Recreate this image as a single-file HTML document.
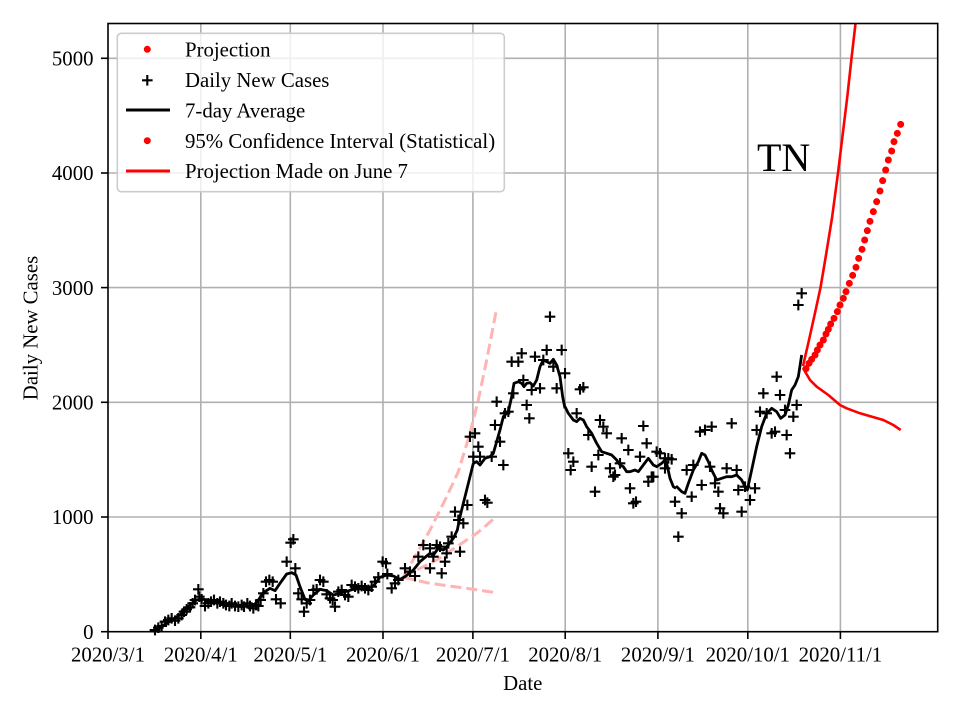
<!DOCTYPE html>
<html><head><meta charset="utf-8"><style>
html,body{margin:0;padding:0;background:#fff;}
svg{display:block;}
text{font-family:"Liberation Serif","Times New Roman",serif;fill:#000;}
</style></head><body>
<svg width="960" height="720" viewBox="0 0 960 720" xmlns="http://www.w3.org/2000/svg">
<defs>
<marker id="pz" markerUnits="userSpaceOnUse" markerWidth="40" markerHeight="40" refX="0" refY="0" overflow="visible"><path d="M-16 0h32M0 -16v32" stroke="#000" stroke-width="6.3" fill="none"/></marker>
<marker id="dz" markerUnits="userSpaceOnUse" markerWidth="30" markerHeight="30" refX="0" refY="0" overflow="visible"><circle cx="0" cy="0" r="10.5" fill="#ff0000"/></marker>
</defs>
<rect width="960" height="720" fill="#fff"/>
<!-- grid -->
<g stroke="#b0b0b0" stroke-width="1.6">
<line x1="200.8" y1="23.5" x2="200.8" y2="631.7"/>
<line x1="290.3" y1="23.5" x2="290.3" y2="631.7"/>
<line x1="383" y1="23.5" x2="383" y2="631.7"/>
<line x1="472.9" y1="23.5" x2="472.9" y2="631.7"/>
<line x1="565.2" y1="23.5" x2="565.2" y2="631.7"/>
<line x1="657.9" y1="23.5" x2="657.9" y2="631.7"/>
<line x1="747.8" y1="23.5" x2="747.8" y2="631.7"/>
<line x1="840.4" y1="23.5" x2="840.4" y2="631.7"/>
<line x1="108" y1="517" x2="937.7" y2="517"/>
<line x1="108" y1="402.3" x2="937.7" y2="402.3"/>
<line x1="108" y1="287.6" x2="937.7" y2="287.6"/>
<line x1="108" y1="173" x2="937.7" y2="173"/>
<line x1="108" y1="58.3" x2="937.7" y2="58.3"/>
</g>
<!-- pink dashed projections -->
<g fill="none" stroke="#ffb3b3" stroke-width="3" stroke-dasharray="11,5">
<polyline points="403.3,577.3 430,530 446.7,496.7 458.3,471.7 470,433.3 478.3,400 486.7,360 496.7,308.3"/>
<polyline points="403.3,577.3 420,568.3 436.7,560 456.7,546.7 476.7,533.3 486.7,525 496,516.7"/>
<polyline points="403.3,577.3 426.7,582.7 446.7,585.7 466.7,588.3 496,592.7"/>
</g>
<!-- 7-day average line -->
<g fill="none" stroke="#000" stroke-width="8.4" stroke-linejoin="round" stroke-linecap="butt">
<polyline transform="translate(140,500) scale(0.33333)" points="40,395 80,370 120,345 150,315 170,300 190,298 220,305 260,312 300,318 340,318 355,300 370,278 390,265 405,272 420,250 440,222 455,218 468,225 480,260 495,298 505,302 520,285 540,268 560,272 580,285 600,280 640,268 680,265 700,258 720,232 740,225 760,228 780,238"/>
<polyline transform="translate(380,290) scale(0.33333)" points="60,868 75,860 100,840 120,815 140,798 150,790 160,795 175,775 190,780 205,765 220,745 232,720 240,680 255,620 270,560 280,520 290,515 300,525 315,505 330,500 340,490 350,455 360,420 370,380 385,365 395,320 402,280 415,275 425,280 432,290 440,280 450,278 460,288 470,270 480,230 490,210 500,215 510,220 520,208 530,225 540,260 548,320 555,355"/>
<polyline transform="translate(550,300) scale(0.33333)" points="45,320 55,340 70,360 80,365 90,355 100,360 110,380 125,400 140,430 155,455 170,460 185,465 200,480 210,495 220,500 230,515 240,515 255,510 265,515 280,495 295,475 310,495 320,500 335,490 345,480 350,490 360,535 370,560 378,565"/>
<polyline transform="translate(660,270) scale(0.33333)" points="48,648 65,665 75,670 85,640 100,600 115,575 125,550 135,555 145,575 155,600 170,630 185,625 200,620 215,620 230,615 245,630 255,650 262,660 275,600 290,530 305,470 320,430 335,415 350,425 362,445 375,435 385,405 395,360 405,345 415,320 425,255"/>
</g>
<!-- daily new cases (plus markers) -->
<g fill="none" stroke="none">
<polyline transform="translate(140,500) scale(0.33333)" marker-start="url(#pz)" marker-mid="url(#pz)" marker-end="url(#pz)" points="45,390 55,383 65,378 75,365 85,360 95,355 105,362 115,355 125,345 132,335 140,328 150,322 158,310 165,300 175,268 178,290 185,298 195,318 205,310 213,305 222,300 232,310 240,305 250,310 258,315 268,318 275,310 285,318 295,320 305,315 312,320 322,310 330,318 340,325 348,315 355,318 362,300 370,280 378,245 388,240 398,245 408,298 422,310 440,185 452,128 460,118 466,205 475,280 485,298 492,335 500,310 510,300 520,270 530,268 540,240 550,245 560,283 570,295 578,300 585,320 595,275 605,270 615,285 625,290 635,255 645,260 655,265 665,258 675,265 685,270 695,260 705,245 715,232 728,185 738,190 742,222 755,265 765,250 775,240"/>
<polyline transform="translate(380,290) scale(0.33333)" marker-start="url(#pz)" marker-mid="url(#pz)" marker-end="url(#pz)" points="75,835 90,845 105,858 115,800 130,765 150,775 150,835 160,800 170,765 180,770 185,850 195,815 200,790 205,760 215,740 225,665 235,690 240,785 250,700 262,645 270,440 285,430 280,500 295,470 300,500 315,630 322,638 335,500 345,405 350,335 360,455 370,525 375,370 385,365 395,215 400,310 415,215 425,190 430,270 440,345 448,385 455,300 465,200 480,295 490,210 500,180 510,80 520,230 530,295 545,180"/>
<polyline transform="translate(550,300) scale(0.33333)" marker-start="url(#pz)" marker-mid="url(#pz)" marker-end="url(#pz)" points="45,220 55,460 70,485 62,510 90,268 100,262 80,340 115,405 125,500 135,575 145,465 150,360 160,380 170,400 180,505 190,530 195,525 210,490 215,415 235,450 240,565 250,610 258,605 270,470 280,378 290,430 295,545 305,530 310,530 320,455 330,460 345,475 355,475 365,478 345,505 375,605"/>
<polyline transform="translate(660,270) scale(0.33333)" marker-start="url(#pz)" marker-mid="url(#pz)" marker-end="url(#pz)" points="55,800 65,730 80,600 100,585 95,680 125,645 120,485 135,480 155,470 150,590 165,640 175,665 180,715 190,730 200,595 215,460 230,600 235,660 245,725 255,650 270,690 285,655 290,480 300,425 310,370 320,430 335,490 345,485 350,320 360,375 375,420 380,495 390,550 400,440 410,405 415,105 425,70"/>
</g>
<!-- red solid lines -->
<g fill="none" stroke="#ff0000" stroke-width="2.6" stroke-linejoin="round">
<polyline points="803,366 809,340 815,313 820.5,287.6 826,255 832,218 838,173 843,132 847.5,95 851.5,58.3 855.5,23.5"/>
<polyline points="803,368 810,380 816.7,386.7 828.3,395 840,405 846.7,408.3 860,413.3 883.3,420 893.3,425 900.7,430"/>
</g>
<!-- red projection dots -->
<polyline transform="translate(740,20) scale(0.33333)" fill="none" stroke="none" marker-start="url(#dz)" marker-mid="url(#dz)" marker-end="url(#dz)" points="198,1046 207,1030 215,1018 225,1005 232,990 240,975 250,960 258,942 265,928 272,912 282,895 292,875 300,855 310,835 318,815 328,790 338,766 348,742 356,715 366,688 374,660 382,632 390,604 400,575 410,545 420,513 428,482 437,450 445,420 455,393 462,365 472,340 482,313"/>
<!-- TN -->
<text x="757" y="171" font-size="40">TN</text>
<!-- spines -->
<rect x="108" y="23.5" width="829.7" height="608.2" fill="none" stroke="#000" stroke-width="1.6"/>
<!-- ticks -->
<g stroke="#000" stroke-width="1.6">
<line x1="108" y1="631.7" x2="108" y2="639"/>
<line x1="200.8" y1="631.7" x2="200.8" y2="639"/>
<line x1="290.3" y1="631.7" x2="290.3" y2="639"/>
<line x1="383" y1="631.7" x2="383" y2="639"/>
<line x1="472.9" y1="631.7" x2="472.9" y2="639"/>
<line x1="565.2" y1="631.7" x2="565.2" y2="639"/>
<line x1="657.9" y1="631.7" x2="657.9" y2="639"/>
<line x1="747.8" y1="631.7" x2="747.8" y2="639"/>
<line x1="840.4" y1="631.7" x2="840.4" y2="639"/>
<line x1="101" y1="631.7" x2="108" y2="631.7"/>
<line x1="101" y1="517" x2="108" y2="517"/>
<line x1="101" y1="402.3" x2="108" y2="402.3"/>
<line x1="101" y1="287.6" x2="108" y2="287.6"/>
<line x1="101" y1="173" x2="108" y2="173"/>
<line x1="101" y1="58.3" x2="108" y2="58.3"/>
</g>
<g font-size="20.8" text-anchor="end">
<text x="93.5" y="638.9">0</text>
<text x="93.5" y="524.2">1000</text>
<text x="93.5" y="409.5">2000</text>
<text x="93.5" y="294.8">3000</text>
<text x="93.5" y="180.2">4000</text>
<text x="93.5" y="65.5">5000</text>
</g>
<g font-size="20.8" text-anchor="middle">
<text x="108" y="661.5">2020/3/1</text>
<text x="200.8" y="661.5">2020/4/1</text>
<text x="290.3" y="661.5">2020/5/1</text>
<text x="383" y="661.5">2020/6/1</text>
<text x="472.9" y="661.5">2020/7/1</text>
<text x="565.2" y="661.5">2020/8/1</text>
<text x="657.9" y="661.5">2020/9/1</text>
<text x="747.8" y="661.5">2020/10/1</text>
<text x="840.4" y="661.5">2020/11/1</text>
<text x="522.8" y="690">Date</text>
<text x="0" y="0" transform="translate(37.7,328) rotate(-90)">Daily New Cases</text>
</g>
<!-- legend -->
<rect x="117.3" y="33.3" width="387" height="158.4" rx="4" ry="4" fill="#fff" fill-opacity="0.8" stroke="#cccccc" stroke-width="1.6"/>
<circle cx="147.3" cy="49.3" r="3.5" fill="#ff0000"/>
<path d="M142 80.3h10.6M147.3 75v10.6" stroke="#000" stroke-width="2.1" fill="none"/>
<line x1="126" y1="110" x2="170" y2="110" stroke="#000" stroke-width="3"/>
<circle cx="147.3" cy="140.7" r="3.5" fill="#ff0000"/>
<line x1="126" y1="171" x2="170" y2="171" stroke="#ff0000" stroke-width="3"/>
<g font-size="20.8">
<text x="185" y="56.6">Projection</text>
<text x="185" y="87.2">Daily New Cases</text>
<text x="185" y="117.5">7-day Average</text>
<text x="185" y="147.8">95% Confidence Interval (Statistical)</text>
<text x="185" y="178.1">Projection Made on June 7</text>
</g>
</svg>
</body></html>
